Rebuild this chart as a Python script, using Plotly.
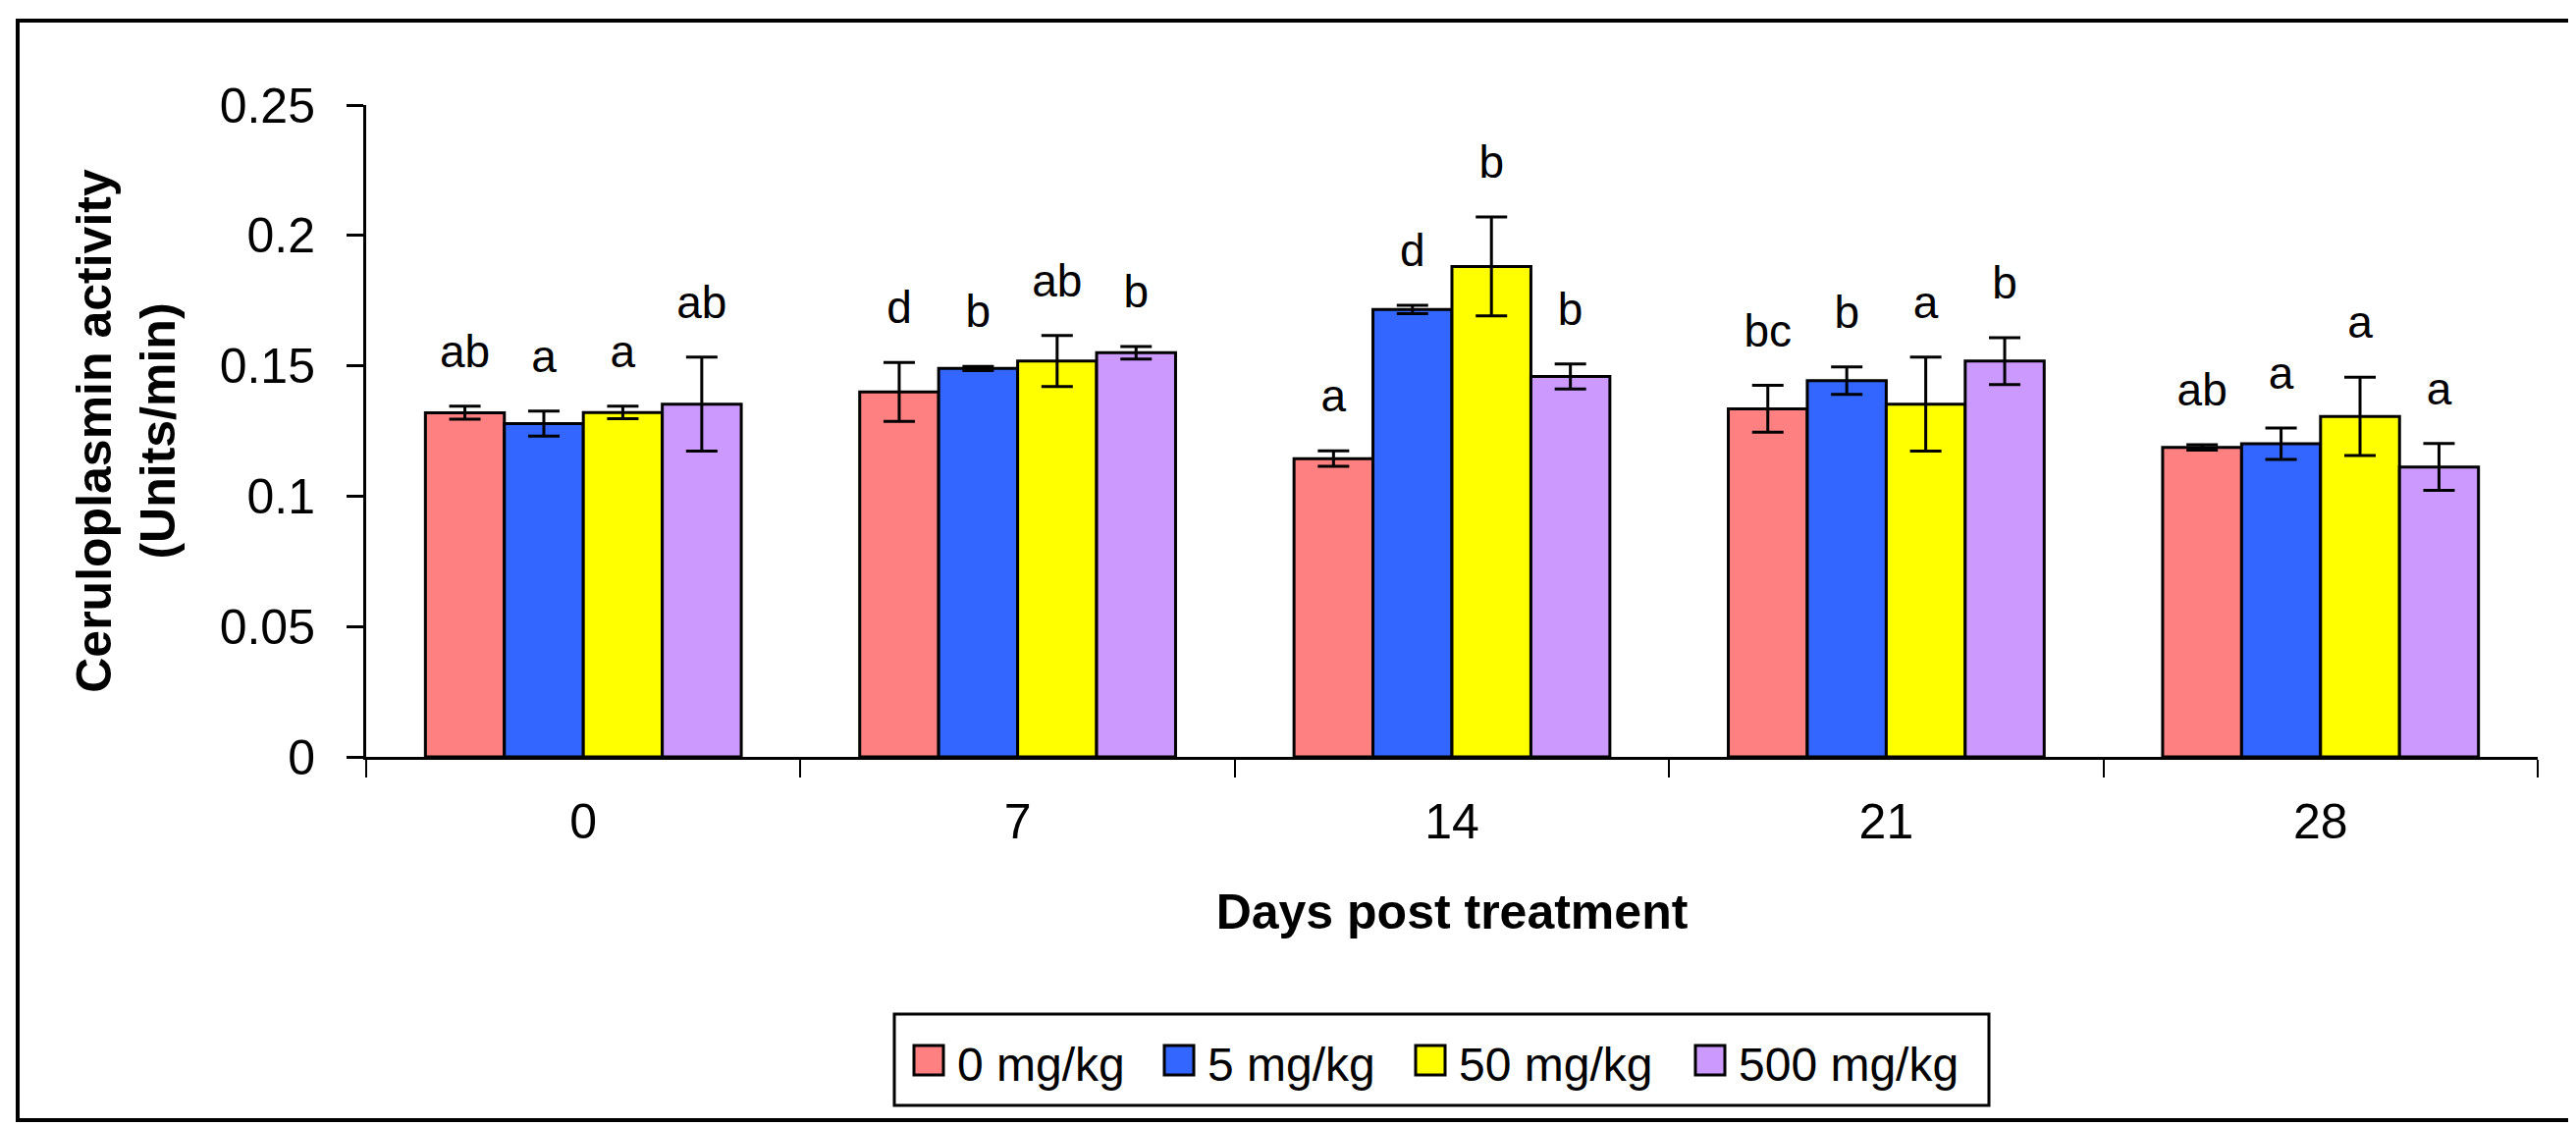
import plotly.graph_objects as go

# -----------------------------
# Data
# -----------------------------
days = ['0', '7', '14', '21', '28']
doses = ['0 mg/kg', '5 mg/kg', '50 mg/kg', '500 mg/kg']
colors = ['#FF8080', '#3366FF', '#FFFF00', '#CC99FF']

mean_0 = [0.132, 0.140, 0.1144, 0.1335, 0.1187]
mean_5 = [0.1278, 0.149, 0.1716, 0.1443, 0.1201]
mean_50 = [0.1321, 0.1518, 0.1881, 0.1353, 0.1306]
mean_500 = [0.1353, 0.155, 0.1459, 0.1518, 0.1112]

err_0 = [0.0025, 0.0113, 0.003, 0.009, 0.001]
err_5 = [0.0048, 0.0008, 0.0016, 0.0053, 0.006]
err_50 = [0.0024, 0.0098, 0.019, 0.018, 0.015]
err_500 = [0.018, 0.0024, 0.0048, 0.009, 0.009]

letters_0 = ['ab', 'd', 'a', 'bc', 'ab']
letters_5 = ['a', 'b', 'd', 'b', 'a']
letters_50 = ['a', 'ab', 'b', 'a', 'a']
letters_500 = ['ab', 'b', 'b', 'b', 'a']

means = [mean_0, mean_5, mean_50, mean_500]
errs = [err_0, err_5, err_50, err_500]
letters = [letters_0, letters_5, letters_50, letters_500]

# -----------------------------
# Layout geometry (pixels)
# -----------------------------
W, H = 2624, 1147
ml, mr, mt, mb = 365, 47, 99, 384
pw = W - ml - mr
ph = H - mt - mb
FONT = 'Liberation Sans, Arial, sans-serif'


def px(x, y):
    # pixel position in the page -> paper coordinates
    return (x - ml) / pw, (H - mb - y) / ph


fig = go.Figure()

for i in range(4):
    fig.add_trace(go.Bar(
        x=days, y=means[i], name=doses[i],
        offsetgroup=str(i),
        marker=dict(color=colors[i], line=dict(color='black', width=3)),
        error_y=dict(type='data', array=errs[i], color='black', thickness=3, width=16),
        showlegend=False,
    ))

# significance letters sit above the error bar caps
# (an invisible marker pushes the text up a little)
for i in range(4):
    tops = [m + e for m, e in zip(means[i], errs[i])]
    fig.add_trace(go.Scatter(
        x=days, y=tops, mode='markers+text', text=letters[i],
        textposition='top center',
        marker=dict(size=44, opacity=0),
        textfont=dict(family=FONT, size=46, color='black'),
        offsetgroup=str(i),
        showlegend=False, hoverinfo='skip',
    ))

# outer frame of the figure
fx0, fy0 = px(10, 1133)
fx1, fy1 = px(2612, 13)
fig.add_shape(type='rect', xref='paper', yref='paper', x0=fx0, y0=fy0, x1=fx1, y1=fy1,
              line=dict(color='black', width=4), fillcolor='rgba(0,0,0,0)', layer='below')

# legend box, swatches and labels
lx0, ly0 = px(903, 1118)
lx1, ly1 = px(2018, 1025)
fig.add_shape(type='rect', xref='paper', yref='paper', x0=lx0, y0=ly0, x1=lx1, y1=ly1,
              line=dict(color='black', width=3), fillcolor='white')
item_left = [923, 1178, 1434, 1719]
for i in range(4):
    sx0, sy0 = px(item_left[i], 1087)
    sx1, sy1 = px(item_left[i] + 30, 1057)
    fig.add_shape(type='rect', xref='paper', yref='paper', x0=sx0, y0=sy0, x1=sx1, y1=sy1,
                  line=dict(color='black', width=3), fillcolor=colors[i])
    tx, ty = px(item_left[i] + 42, 1076)
    fig.add_annotation(xref='paper', yref='paper', x=tx, y=ty, text=doses[i],
                       showarrow=False, xanchor='left', yanchor='middle',
                       font=dict(family=FONT, size=48, color='black'))

fig.update_layout(
    width=W, height=H,
    margin=dict(l=ml, r=mr, t=mt, b=mb, autoexpand=False),
    paper_bgcolor='white', plot_bgcolor='white',
    barmode='group', bargap=1.5 / 5.5, bargroupgap=0,
    scattermode='group', scattergap=1.5 / 5.5,
    font=dict(family=FONT, color='black'),
    showlegend=False,
)

fig.update_xaxes(
    type='category',
    showline=True, linecolor='black', linewidth=3,
    ticks='outside', tickson='boundaries', ticklen=18, tickwidth=2, tickcolor='black',
    tickfont=dict(family=FONT, size=50, color='black'),
    ticklabelstandoff=20,
    showgrid=False, zeroline=False,
    title=dict(text='<b>Days post treatment</b>', font=dict(family=FONT, size=50, color='black'),
               standoff=47),
)

fig.update_yaxes(
    range=[0, 0.25], tickvals=[0, 0.05, 0.1, 0.15, 0.2, 0.25],
    ticktext=['0', '0.05', '0.1', '0.15', '0.2', '0.25'],
    showline=True, linecolor='black', linewidth=3,
    ticks='outside', ticklen=17, tickwidth=3, tickcolor='black',
    tickfont=dict(family=FONT, size=50, color='black'),
    ticklabelstandoff=22,
    showgrid=False, zeroline=False,
    title=dict(text='<b>Ceruloplasmin activity<br>(Units/min)</b>',
               font=dict(family=FONT, size=50, color='black'), standoff=30),
)

fig.write_html('out.html')
